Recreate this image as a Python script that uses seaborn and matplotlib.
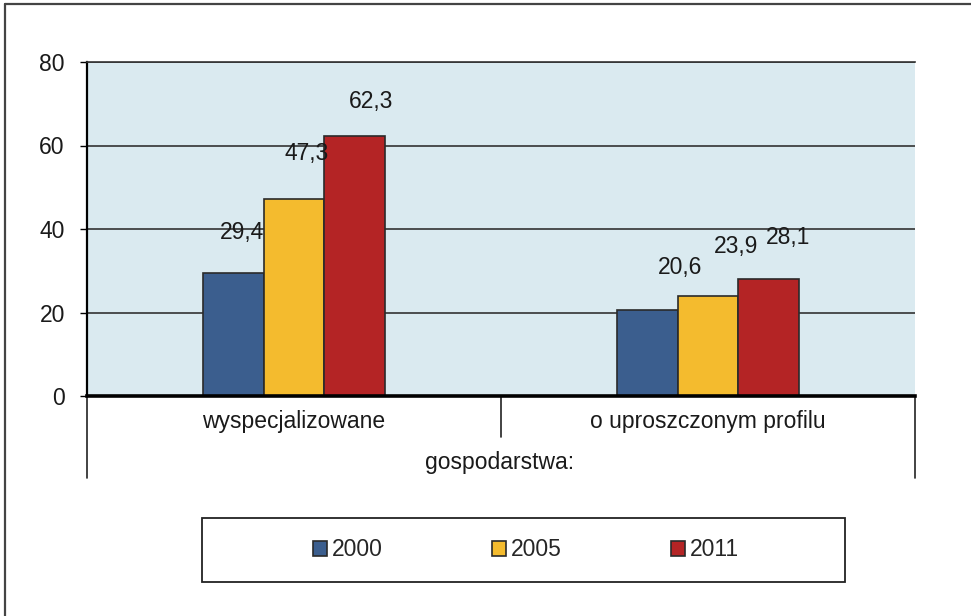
import matplotlib
matplotlib.use("Agg")
import matplotlib.pyplot as plt
from matplotlib.lines import Line2D
from matplotlib.patches import Rectangle
import seaborn as sns
import pandas as pd

# ---- data ----
categories = ["wyspecjalizowane", "o uproszczonym profilu"]
years = ["2000", "2005", "2011"]
values_2000 = [29.4, 20.6]
values_2005 = [47.3, 23.9]
values_2011 = [62.3, 28.1]
y_ticks = [0, 20, 40, 60, 80]
group_title = "gospodarstwa:"

# ---- styling ----
colors = ["#3B5E8E", "#F4BB2E", "#B42425"]
bg_color = "#DAEAF0"
# label offsets (pixels) per year per category, relative to top-centre of each bar
label_offsets = [
    [(9, 41), (33, 42)],
    [(13, 45), (28, 50)],
    [(16, 34), (19, 41)],
]

sns.set_style("white")
plt.rcParams["font.family"] = ["Liberation Sans", "DejaVu Sans"]
FS = 16.5

rows = []
for yr, vals in zip(years, [values_2000, values_2005, values_2011]):
    for c, v in zip(categories, vals):
        rows.append({"kat": c, "rok": yr, "val": v})
df = pd.DataFrame(rows)

W, H = 971, 616
fig = plt.figure(figsize=(W / 100, H / 100), dpi=100)
ax = fig.add_axes([87 / W, 1 - 396 / H, (915 - 87) / W, (396 - 62) / H])
ax.set_facecolor(bg_color)

sns.barplot(data=df, x="kat", y="val", hue="rok", order=categories, hue_order=years,
            palette=colors, width=0.44, gap=0, edgecolor="#2a2a2a", linewidth=1.2,
            saturation=1, ax=ax, zorder=3)

ax.set_ylim(0, 80)
ax.set_yticks(y_ticks)
ax.set_xlim(-0.5, 1.5)
ax.set_xlabel("")
ax.set_ylabel("")
ax.yaxis.grid(True, color="#333333", linewidth=1.2, zorder=1)
ax.set_axisbelow(True)

for s in ["right"]:
    ax.spines[s].set_visible(False)
ax.spines["top"].set_color("#333333")
ax.spines["top"].set_linewidth(1.2)
ax.spines["left"].set_color("black")
ax.spines["left"].set_linewidth(1.6)
ax.spines["bottom"].set_color("black")
ax.spines["bottom"].set_linewidth(2.6)
ax.spines["bottom"].set_zorder(5)

ax.tick_params(axis="y", labelsize=FS, length=5, width=1, color="black", pad=11, left=True)
ax.tick_params(axis="x", labelsize=FS, length=0, pad=10)
for t in ax.get_xticklabels() + ax.get_yticklabels():
    t.set_color("#1a1a1a")

# value labels
for i, cont in enumerate(ax.containers):
    for j, bar in enumerate(cont):
        v = bar.get_height()
        dx, dy = label_offsets[i][j]
        ax.annotate(f"{v:.1f}".replace(".", ","),
                    xy=(bar.get_x() + bar.get_width() / 2, v),
                    xytext=(dx, dy), textcoords="offset pixels",
                    ha="center", va="center", fontsize=FS, color="#1a1a1a", zorder=6)

# category separators below axis
for xa, depth in [(0, 82), (0.5, 41), (1, 82)]:
    ax.add_line(Line2D([xa, xa], [0, -depth / 334], transform=ax.transAxes,
                       color="#222222", linewidth=1.2, clip_on=False))

fig.text(500 / W, 1 - 462 / H, group_title, ha="center", va="center",
         fontsize=FS, color="#1a1a1a")

# legend
handles, labels = ax.get_legend_handles_labels()
if ax.get_legend() is not None:
    ax.get_legend().remove()
fig.legend(handles, labels, loc="center", bbox_to_anchor=(526 / W, 1 - 550 / H),
           ncol=3, frameon=False, fontsize=FS, handlelength=0.6, handleheight=0.6,
           handletextpad=0.2, columnspacing=4.8)
fig.add_artist(Rectangle((202 / W, 1 - 582 / H), (845 - 202) / W, (582 - 518) / H,
                         transform=fig.transFigure, fill=False, edgecolor="#222222",
                         linewidth=1.3))

# outer frame (cropped)
fig.add_artist(Line2D([5 / W, 5 / W], [0, 1 - 4 / H], transform=fig.transFigure,
                      color="#444444", linewidth=1.6))
fig.add_artist(Line2D([5 / W, 1], [1 - 4 / H, 1 - 4 / H], transform=fig.transFigure,
                      color="#444444", linewidth=1.6))

fig.savefig("out.png", dpi=100)
